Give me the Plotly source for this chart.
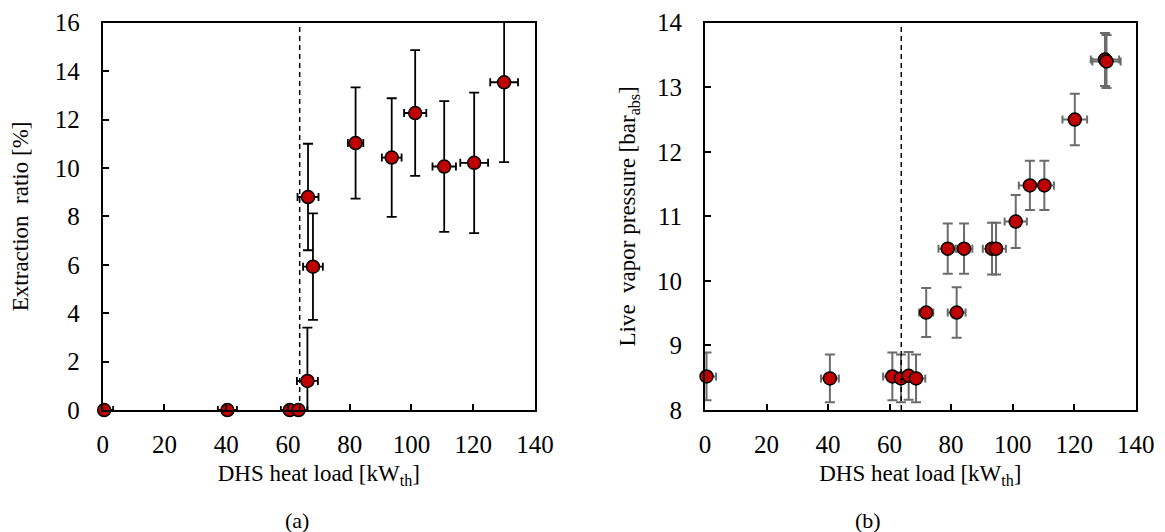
import plotly.graph_objects as go
from plotly.subplots import make_subplots

# (a) extraction ratio vs DHS heat load
load_a = [0.5, 40.4, 60.6, 63.4, 66.3, 66.5, 68.1, 81.9, 93.6, 101.2, 110.6, 120.3, 130.0]
load_err_a = [2.9, 3.1, 2.9, 2.9, 3.4, 3.4, 3.2, 2.5, 3.2, 3.6, 3.8, 4.5, 4.5]
ratio_a = [0.0, 0.0, 0.0, 0.0, 1.2, 8.8, 5.92, 11.03, 10.43, 12.27, 10.06, 10.21, 13.54]
ratio_err_a = [0, 0, 0, 0, 2.2, 2.2, 2.2, 2.3, 2.45, 2.6, 2.7, 2.9, 3.3]

# (b) live vapor pressure vs DHS heat load
load_b = [0.5, 40.6, 60.9, 63.7, 66.2, 68.6, 71.9, 78.9, 81.8, 84.2, 93.3, 94.6,
          101.0, 105.6, 110.3, 120.2, 130.0, 130.5]
load_err_b = [3.1, 2.9, 3.0, 3.0, 3.0, 3.0, 2.3, 3.0, 2.9, 2.7, 3.0, 3.2,
              3.6, 3.6, 3.1, 4.0, 4.6, 4.6]
pressure_b = [8.52, 8.49, 8.52, 8.49, 8.53, 8.49, 9.51, 10.5, 9.51, 10.5, 10.5, 10.5,
              10.92, 11.48, 11.48, 12.5, 13.43, 13.4]
pressure_err_b = [0.37, 0.37, 0.37, 0.37, 0.37, 0.37, 0.38, 0.39, 0.39, 0.39, 0.4, 0.4,
                  0.41, 0.38, 0.38, 0.4, 0.41, 0.41]

threshold_load = 63.8
x_ticks = [0, 20, 40, 60, 80, 100, 120, 140]
y_ticks_a = [0, 2, 4, 6, 8, 10, 12, 14, 16]
y_ticks_b = [8, 9, 10, 11, 12, 13, 14]

FONT = "Liberation Serif"
RED = "#c00000"

fig = make_subplots(rows=1, cols=2)

# error bars (clipped to plot area), drawn under the markers
fig.add_trace(go.Scatter(
    x=load_a, y=ratio_a, mode="markers", marker=dict(size=1, opacity=0),
    error_x=dict(type="data", array=load_err_a, color="black", thickness=1.8, width=4),
    error_y=dict(type="data", array=ratio_err_a, color="black", thickness=1.8, width=5),
    showlegend=False, hoverinfo="skip"), row=1, col=1)
fig.add_trace(go.Scatter(
    x=load_b, y=pressure_b, mode="markers", marker=dict(size=1, opacity=0),
    error_x=dict(type="data", array=load_err_b, color="#6b6b6b", thickness=2, width=4),
    error_y=dict(type="data", array=pressure_err_b, color="#6b6b6b", thickness=2, width=5),
    showlegend=False, hoverinfo="skip"), row=1, col=2)

fig.add_vline(x=threshold_load, line=dict(color="black", width=1.5, dash="5px,4px"), row=1, col=1)
fig.add_vline(x=threshold_load, line=dict(color="black", width=1.5, dash="5px,4px"), row=1, col=2)

fig.add_trace(go.Scatter(
    x=load_a, y=ratio_a, mode="markers", cliponaxis=False,
    marker=dict(size=13, color=RED, line=dict(color="black", width=1.5)),
    showlegend=False), row=1, col=1)
fig.add_trace(go.Scatter(
    x=load_b, y=pressure_b, mode="markers", cliponaxis=False,
    marker=dict(size=13, color=RED, line=dict(color="black", width=1.5)),
    showlegend=False), row=1, col=2)

axis_style = dict(
    showline=True, linecolor="black", linewidth=2, mirror=True,
    ticks="inside", ticklen=6, tickwidth=1.5, tickcolor="black",
    showgrid=False, zeroline=False, automargin=False,
    tickfont=dict(family=FONT, size=25, color="black"),
)

x_title = "DHS heat load [kW<sub>th</sub>]"
fig.update_xaxes(**axis_style, range=[0, 140], tickvals=x_ticks, ticklabelstandoff=11,
                 title=dict(text=x_title, font=dict(family=FONT, size=23, color="black"), standoff=8))
fig.update_yaxes(**axis_style, ticklabelstandoff=16)
fig.update_yaxes(range=[0, 16], tickvals=y_ticks_a, row=1, col=1,
                 title=dict(text="Extraction  ratio [%]",
                            font=dict(family=FONT, size=23, color="black"), standoff=22))
fig.update_yaxes(range=[8, 14], tickvals=y_ticks_b, row=1, col=2,
                 title=dict(text="Live  vapor pressure [bar<sub>abs</sub>]",
                            font=dict(family=FONT, size=23, color="black"), standoff=15))

# page body adds 8px; figure sized to fill the rest of the window
fig.update_layout(
    width=1157, height=524,
    margin=dict(l=0, r=0, t=0, b=0),
    paper_bgcolor="white", plot_bgcolor="white",
    xaxis=dict(domain=[0.0818, 0.4555]),
    xaxis2=dict(domain=[0.6024, 0.9747]),
    yaxis=dict(domain=[0.2328, 0.9719]),
    yaxis2=dict(domain=[0.2328, 0.9719]),
    annotations=[
        dict(text="(a)", x=0.2377, y=0.0229, xref="paper", yref="paper", showarrow=False,
             yanchor="middle", font=dict(family=FONT, size=22, color="black")),
        dict(text="(b)", x=0.7563, y=0.0229, xref="paper", yref="paper", showarrow=False,
             yanchor="middle", font=dict(family=FONT, size=22, color="black")),
    ],
)

fig.write_html("out.html")
